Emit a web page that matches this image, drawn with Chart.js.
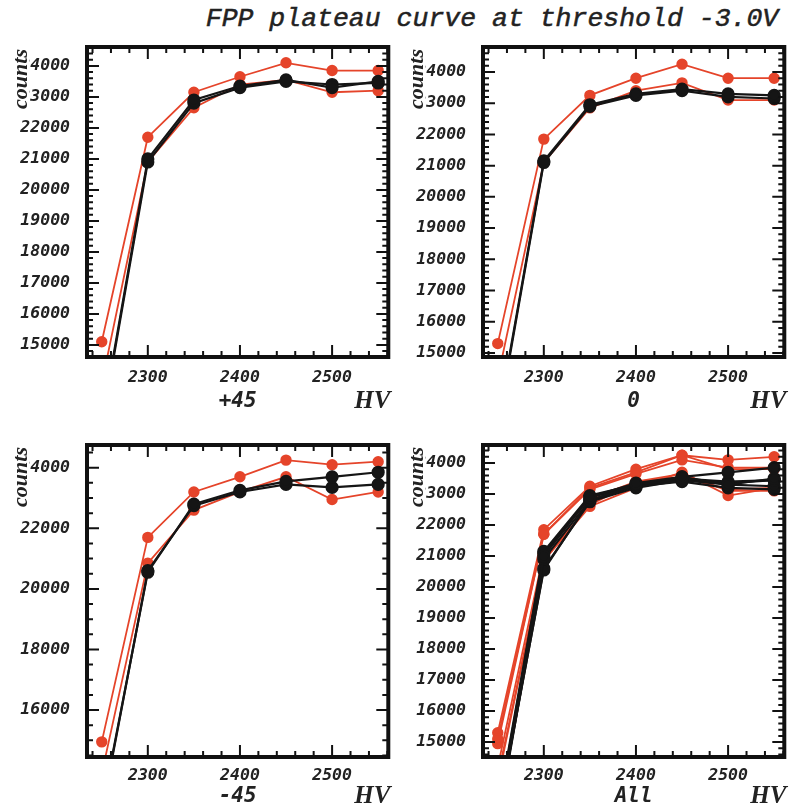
<!DOCTYPE html>
<html>
<head>
<meta charset="utf-8">
<script src="https://cdn.jsdelivr.net/npm/chart.js@4.4.1/dist/chart.umd.min.js"></script>
<style>
  body { margin: 0; background: #fff; width: 793px; height: 812px; position: relative; overflow: hidden; }
  #title {
    position: absolute; left: 492px; top: 4px; transform: translateX(-50%);
    font: italic 26.5px "Liberation Mono", monospace; color: #222; white-space: nowrap;
    -webkit-text-stroke: 0.5px #222;
  }
  canvas { position: absolute; }
</style>
</head>
<body>
<div id="title">FPP plateau curve at threshold -3.0V</div>
<canvas id="p45" width="396" height="420" style="left:0;top:0"></canvas>
<canvas id="p0" width="396" height="420" style="left:396px;top:0"></canvas>
<canvas id="m45" width="396" height="420" style="left:0;top:398px"></canvas>
<canvas id="all" width="396" height="420" style="left:396px;top:398px"></canvas>
<script>
// high voltage steps
const HV = [2250, 2300, 2350, 2400, 2450, 2500, 2550];

// +45
const P45_RED_HI = [15100, 21700, 23150, 23650, 24100, 23850, 23850];
const P45_RED_LO = [13750, 20900, 22650, 23400, 23550, 23150, 23200];
const P45_BLK_1  = [12500, 21000, 22900, 23350, 23550, 23300, 23500];
const P45_BLK_2  = [12400, 20900, 22800, 23300, 23500, 23400, 23450];

// 0
const P0_RED_HI = [15300, 21850, 23250, 23800, 24250, 23800, 23800];
const P0_RED_LO = [14200, 21100, 22850, 23400, 23650, 23100, 23100];
const P0_BLK_1  = [12800, 21150, 22950, 23300, 23450, 23300, 23250];
const P0_BLK_2  = [12700, 21100, 22900, 23250, 23400, 23200, 23150];

// -45
const M45_RED_HI = [14950, 21700, 23200, 23700, 24250, 24100, 24200];
const M45_RED_LO = [13900, 20850, 22600, 23200, 23700, 22950, 23200];
const M45_BLK_1  = [12700, 20550, 22800, 23250, 23550, 23700, 23850];
const M45_BLK_2  = [12600, 20600, 22750, 23200, 23450, 23350, 23450];

const X_TICKS = [2300, 2400, 2500];
const Y_TICKS_1K = [15000, 16000, 17000, 18000, 19000, 20000, 21000, 22000, 23000, 24000];
const Y_TICKS_2K = [16000, 18000, 20000, 22000, 24000];

const RED = '#e5442a';
const BLK = '#151515';

function pts(vals) {
  return vals.map((v, i) => ({x: HV[i], y: v}));
}
function blk(vals) {
  return {data: pts(vals), borderColor: BLK, backgroundColor: BLK, borderWidth: 2.2, pointRadius: 5.5};
}
function red(vals) {
  return {data: pts(vals), borderColor: RED, backgroundColor: RED, borderWidth: 1.8, pointRadius: 4.8};
}

const tickFont = {family: 'DejaVu Sans Mono', size: 16.5, style: 'italic', weight: 'bold'};

// frame, inward ticks and the panel texts
const framePlugin = {
  id: 'frame',
  afterDraw(chart, args, o) {
    const ctx = chart.ctx;
    const {left, right, top, bottom} = chart.chartArea;
    const xs = chart.scales.x, ys = chart.scales.y;
    ctx.save();
    ctx.strokeStyle = '#111';
    ctx.lineWidth = 2;
    ctx.beginPath();
    for (let v = Math.ceil(xs.min / 20) * 20; v <= xs.max; v += 20) {
      const px = xs.getPixelForValue(v);
      const len = v % 100 === 0 ? 12 : 6;
      ctx.moveTo(px, bottom); ctx.lineTo(px, bottom - len);
      ctx.moveTo(px, top); ctx.lineTo(px, top + len);
    }
    for (let v = Math.ceil(ys.min / o.minor) * o.minor; v <= ys.max; v += o.minor) {
      const py = ys.getPixelForValue(v);
      const len = v % o.major === 0 ? 12 : 6;
      ctx.moveTo(left, py); ctx.lineTo(left + len, py);
      ctx.moveTo(right, py); ctx.lineTo(right - len, py);
    }
    ctx.stroke();
    ctx.lineWidth = 4;
    ctx.strokeRect(left, top, right - left, bottom - top);

    // y title
    ctx.translate(21, top + 32);
    ctx.rotate(-Math.PI / 2);
    ctx.font = 'bold italic 22px "Liberation Serif"';
    const w = ctx.measureText('counts').width;
    ctx.fillStyle = '#fff';
    ctx.fillRect(-w / 2 - 1, -8, w + 2, 16);
    ctx.fillStyle = '#222';
    ctx.textAlign = 'center';
    ctx.textBaseline = 'middle';
    ctx.fillText('counts', 0, 0);
    ctx.setTransform(1, 0, 0, 1, 0, 0);

    ctx.fillStyle = '#222';
    ctx.textBaseline = 'middle';
    ctx.font = 'bold italic 21px "DejaVu Sans Mono"';
    ctx.textAlign = 'center';
    ctx.fillText(o.name, (left + right) / 2, bottom + o.nameDy);
    ctx.font = 'bold italic 25px "Liberation Serif"';
    ctx.textAlign = 'right';
    ctx.fillText('HV', right + 2, bottom + o.nameDy);
    ctx.restore();
  }
};

function makePanel(id, p) {
  new Chart(document.getElementById(id), {
    type: 'line',
    data: {datasets: p.datasets},
    plugins: [framePlugin],
    options: {
      responsive: false,
      animation: false,
      events: [],
      layout: {padding: {left: 0, top: 47, right: p.padRight, bottom: 0}},
      plugins: {
        legend: {display: false},
        tooltip: {enabled: false},
        frame: {name: p.name, nameDy: p.nameDy, major: p.major, minor: p.minor}
      },
      scales: {
        x: {
          type: 'linear', min: 2234, max: 2561,
          afterBuildTicks: s => { s.ticks = X_TICKS.map(v => ({value: v})); },
          afterFit: s => { s.height = p.xHeight; },
          grid: {display: false, drawTicks: false},
          border: {display: false},
          ticks: {padding: p.xPad, font: tickFont, color: '#222', callback: v => String(v)}
        },
        y: {
          type: 'linear', min: p.ymin, max: p.ymax,
          afterBuildTicks: s => { s.ticks = p.yTicks.map(v => ({value: v})); },
          afterFit: s => { s.width = 87; },
          grid: {display: false, drawTicks: false},
          border: {display: false},
          ticks: {padding: 17, font: tickFont, color: '#222', callback: v => String(v)}
        }
      }
    }
  });
}

makePanel('p45', {
  name: '+45', ymin: 14610, ymax: 24610, yTicks: Y_TICKS_1K, major: 1000, minor: 200,
  padRight: 3, xHeight: 63, xPad: 11, nameDy: 45,
  datasets: [blk(P45_BLK_1), blk(P45_BLK_2), red(P45_RED_HI), red(P45_RED_LO)]
});
makePanel('p0', {
  name: '0', ymin: 14870, ymax: 24800, yTicks: Y_TICKS_1K, major: 1000, minor: 200,
  padRight: 5, xHeight: 63, xPad: 11, nameDy: 45,
  datasets: [blk(P0_BLK_1), blk(P0_BLK_2), red(P0_RED_HI), red(P0_RED_LO)]
});
makePanel('m45', {
  name: '-45', ymin: 14450, ymax: 24750, yTicks: Y_TICKS_2K, major: 2000, minor: 500,
  padRight: 3, xHeight: 61, xPad: 9, nameDy: 40,
  datasets: [blk(M45_BLK_1), blk(M45_BLK_2), red(M45_RED_HI), red(M45_RED_LO)]
});
makePanel('all', {
  name: 'All', ymin: 14520, ymax: 24580, yTicks: Y_TICKS_1K, major: 1000, minor: 200,
  padRight: 5, xHeight: 61, xPad: 9, nameDy: 40,
  datasets: [
    blk(P45_BLK_1), blk(P45_BLK_2), blk(P0_BLK_1), blk(P0_BLK_2), blk(M45_BLK_1), blk(M45_BLK_2),
    red(P45_RED_HI), red(P45_RED_LO), red(P0_RED_HI), red(P0_RED_LO), red(M45_RED_HI), red(M45_RED_LO)
  ]
});
</script>
</body>
</html>
